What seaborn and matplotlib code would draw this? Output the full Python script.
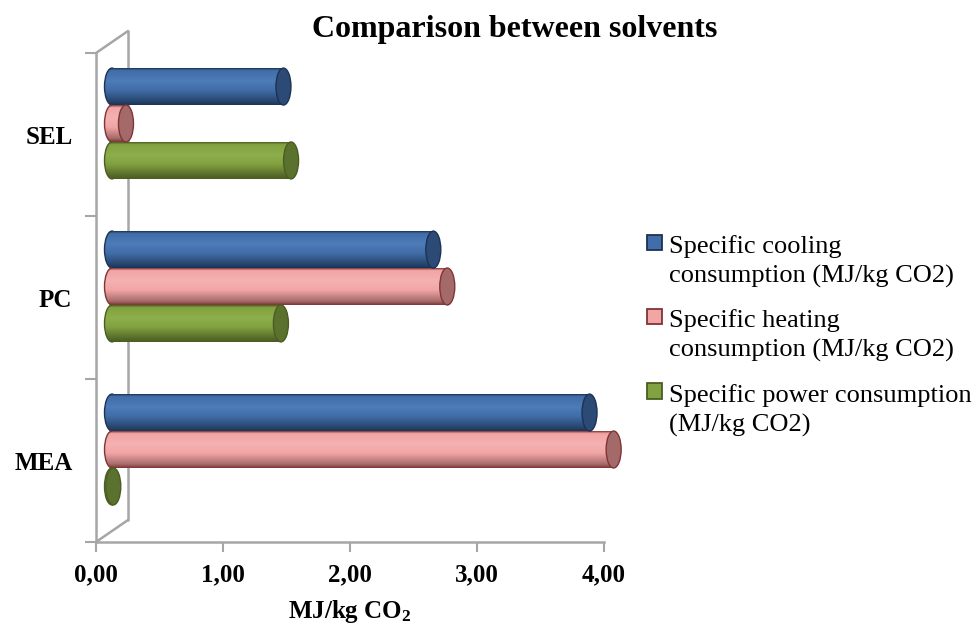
import numpy as np
import pandas as pd
import matplotlib
matplotlib.use("Agg")
import matplotlib.pyplot as plt
import seaborn as sns
from matplotlib.patches import Ellipse, Rectangle, Patch
from matplotlib.transforms import ScaledTranslation
from matplotlib.colors import LinearSegmentedColormap
from matplotlib.legend_handler import HandlerPatch
from matplotlib.lines import Line2D

# ---------------- data ----------------
solvents = ["SEL", "PC", "MEA"]
series = [
    "Specific cooling\nconsumption (MJ/kg CO2)",
    "Specific heating\nconsumption (MJ/kg CO2)",
    "Specific power consumption\n(MJ/kg CO2)",
]
cooling = [1.35, 2.53, 3.76]
heating = [0.11, 2.64, 3.95]
power = [1.41, 1.33, 0.01]
x_ticks = [0, 1, 2, 3, 4]
x_tick_labels = ["0,00", "1,00", "2,00", "3,00", "4,00"]
title = "Comparison between solvents"
x_label = r"MJ/kg CO$_2$"

# ---------------- style ----------------
base_colors = ["#416DA8", "#F2A5A5", "#82A140"]
light_colors = ["#4D7CB8", "#F5B1B1", "#8DAE4A"]
dark_colors = ["#27466F", "#A66B6B", "#566B29"]
cap_colors = ["#2B4A75", "#A46A6A", "#5B712E"]
edge_colors = ["#1C3352", "#7E3535", "#4A5D22"]
axis_gray = "#A6A6A6"

df = pd.DataFrame({
    "solvent": solvents * 3,
    "series": np.repeat(series, len(solvents)),
    "value": cooling + heating + power,
})

sns.set_theme(style="white")
plt.rcParams["font.family"] = ["Liberation Serif", "DejaVu Serif"]
plt.rcParams["mathtext.fontset"] = "custom"
plt.rcParams["mathtext.rm"] = "Liberation Serif:bold"
plt.rcParams["mathtext.default"] = "rm"
plt.rcParams["text.color"] = "black"
plt.rcParams["axes.labelcolor"] = "black"

W, H = 977, 627
fig = plt.figure(figsize=(W / 100, H / 100), dpi=100)
ax = fig.add_axes([96 / W, 1 - 542 / H, (604 - 96) / W, (542 - 53) / H])

sns.barplot(data=df, y="solvent", x="value", hue="series", order=solvents,
            hue_order=series, palette=base_colors, orient="h", width=0.68,
            errorbar=None, saturation=1, legend=False, ax=ax)

ax.set_xlim(0, 4)
ax.set_ylim(2.5, -0.5)

# 3D-like depth offsets (pixels)
dpi = fig.dpi
depth_dx, depth_dy = 32, 22
off = ax.transData + ScaledTranslation(depth_dx / 2 / dpi, depth_dy / 2 / dpi, fig.dpi_scale_trans)
px_per_unit = ax.get_window_extent().width / 4
cap_w = 15 / px_per_unit

bars = list(ax.patches)
n = len(solvents)
grad = np.linspace(0, 1, 128).reshape(-1, 1)
for i, p in enumerate(bars):
    k = i // n
    x0, y0, w, h = p.get_x(), p.get_y(), p.get_width(), p.get_height()
    yc = y0 + h / 2
    p.set_transform(off)
    p.set_facecolor(base_colors[k])
    p.set_edgecolor("none")
    p.set_zorder(3)
    p.set_clip_on(False)
    cmap = LinearSegmentedColormap.from_list(
        f"cyl{k}", [(0, edge_colors[k]), (0.06, base_colors[k]),
                    (0.35, light_colors[k]), (0.6, base_colors[k]),
                    (0.9, dark_colors[k]), (1, edge_colors[k])])
    ext = (x0 - cap_w, x0 + w, y0 + h, y0)
    # left rounded end
    left = Ellipse((x0, yc), cap_w, h, facecolor="none",
                   edgecolor=edge_colors[k], lw=1.0, transform=off,
                   zorder=2.9, clip_on=False)
    ax.add_patch(left)
    im_l = ax.imshow(grad, extent=ext, aspect="auto", cmap=cmap, origin="upper",
                     zorder=2.8, interpolation="bilinear")
    im_l.set_transform(off)
    im_l.set_clip_path(left)
    # body shading
    im = ax.imshow(grad, extent=ext, aspect="auto", cmap=cmap, origin="upper",
                   zorder=3.1, interpolation="bilinear")
    im.set_transform(off)
    im.set_clip_path(p)
    # right end cap
    ax.add_patch(Ellipse((x0 + w, yc), cap_w, h, facecolor=cap_colors[k],
                         edgecolor=edge_colors[k], lw=1.0, transform=off,
                         zorder=4, clip_on=False))

ax.set_xlim(0, 4)
ax.set_ylim(2.5, -0.5)
ax.set_aspect("auto")

# spines
for s in ["top", "right"]:
    ax.spines[s].set_visible(False)
for s in ["left", "bottom"]:
    ax.spines[s].set_color(axis_gray)
    ax.spines[s].set_linewidth(1.8)

# back wall lines (behind the bars)
bb = ax.get_position()
ddx, ddy = depth_dx / W, depth_dy / H
wall = dict(color=axis_gray, lw=1.8, transform=fig.transFigure, clip_on=False, zorder=1)
ax.add_line(Line2D([bb.x0 + ddx, bb.x0 + ddx], [bb.y0 + ddy, bb.y1 + ddy], **wall))
ax.add_line(Line2D([bb.x0, bb.x0 + ddx], [bb.y0, bb.y0 + ddy], **wall))
ax.add_line(Line2D([bb.x0, bb.x0 + ddx], [bb.y1, bb.y1 + ddy], **wall))

# ticks
ax.set_xticks(x_ticks, x_tick_labels)
for t in ax.get_xticklabels():
    t.set_fontweight("bold")
    t.set_fontsize(18)
ax.tick_params(axis="x", bottom=True, length=7, width=1.5, color=axis_gray,
               pad=8, labelcolor="black")

ax.set_yticks([-0.5, 0.5, 1.5, 2.5], ["", "", "", ""])
ax.set_yticks(range(n), solvents, minor=True)
ax.tick_params(axis="y", which="major", left=True, length=8, width=1.5, color=axis_gray)
ax.tick_params(axis="y", which="minor", left=True, length=0, pad=17, labelsize=18,
               labelcolor="black")
for t in ax.get_yticklabels(minor=True):
    t.set_fontweight("bold")

ax.set_ylabel("")
ax.set_xlabel(x_label, fontsize=18, fontweight="bold", labelpad=9, color="black")

fig.text(0.527, 1 - 29 / H, title, ha="center", va="center", fontsize=23,
         fontweight="bold", color="black")

# legend
class TopSquare(HandlerPatch):
    def create_artists(self, legend, orig_handle, xdescent, ydescent, width,
                       height, fontsize, trans):
        s = 0.58 * fontsize
        r = Rectangle((-xdescent + (width - s) / 2,
                       -ydescent + (height - s) / 2 + 0.7 * fontsize), s, s,
                      facecolor=orig_handle.get_facecolor(),
                      edgecolor=orig_handle.get_edgecolor(), lw=1.3,
                      transform=trans)
        return [r]

handles = [Patch(facecolor=base_colors[k], edgecolor=edge_colors[k]) for k in range(3)]
leg = fig.legend(handles, series, loc="upper left",
                 bbox_to_anchor=(646 / W, 1 - 235 / H), frameon=False,
                 fontsize=19, handlelength=0.62, handleheight=0.7,
                 handletextpad=0.25, labelspacing=0.8, borderpad=0,
                 borderaxespad=0, handler_map={Patch: TopSquare()})
for t in leg.get_texts():
    t.set_linespacing(1.4)
    t.set_color("black")

fig.savefig("out.png", dpi=100)
